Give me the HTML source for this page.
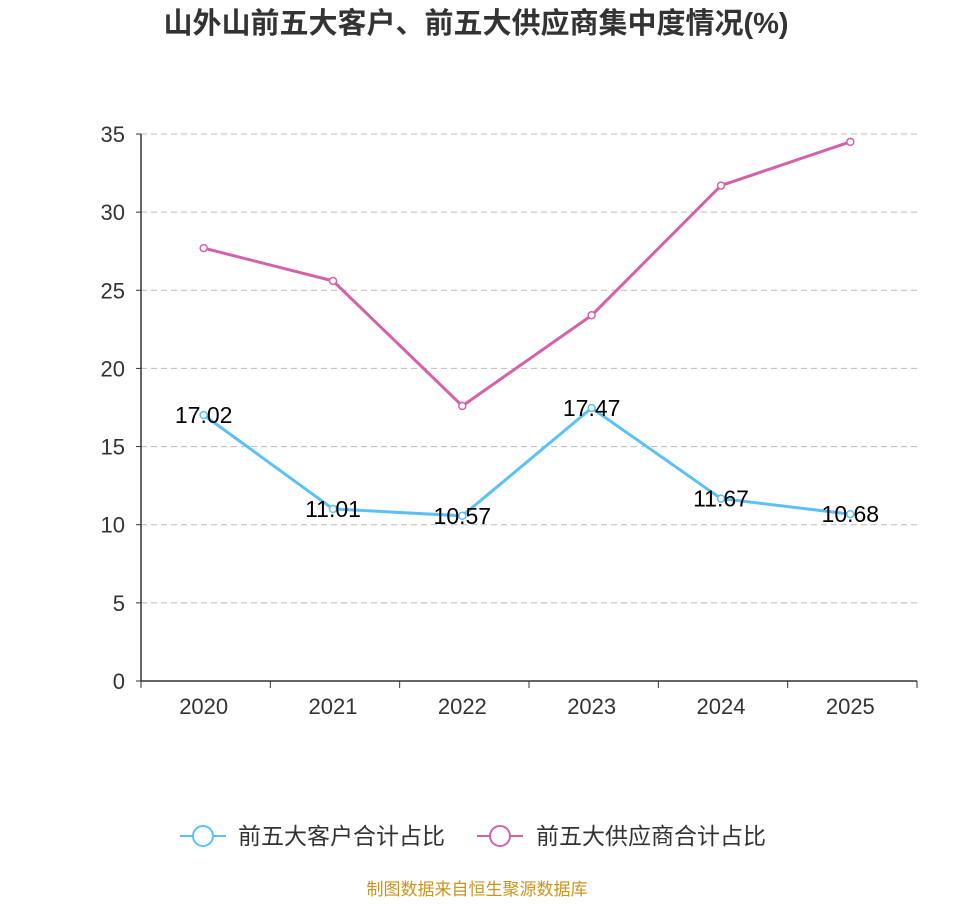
<!DOCTYPE html>
<html><head><meta charset="utf-8"><style>
body{margin:0;background:#fff;}
svg text{font-family:"Liberation Sans","Noto Sans CJK SC",sans-serif;}
</style></head><body>
<svg id="chart" width="954" height="900">
<text x="476" y="33" text-anchor="middle" font-size="29" font-weight="bold" fill="#333">山外山前五大客户、前五大供应商集中度情况(%)</text>
<g id="grid"></g><g id="axes"></g><g id="series"></g>
<g>
<g>
<line x1="180" y1="836" x2="226" y2="836" stroke="#5bc0f5" stroke-width="2"/>
<circle cx="203" cy="836" r="10" fill="#fff" stroke="#5bc0f5" stroke-width="2"/>
<text x="238" y="844" font-size="23" fill="#333">前五大客户合计占比</text></g>
<g>
<line x1="477" y1="836" x2="523" y2="836" stroke="#d462a8" stroke-width="2"/>
<circle cx="500" cy="836" r="10" fill="#fff" stroke="#d462a8" stroke-width="2"/>
<text x="536" y="844" font-size="23" fill="#333">前五大供应商合计占比</text></g>
</g>
<text x="477" y="895" text-anchor="middle" font-size="17" fill="#c8961e">制图数据来自恒生聚源数据库</text>
</svg>
<script>
const categories=["2020","2021","2022","2023","2024","2025"];
const customers=[17.02,11.01,10.57,17.47,11.67,10.68];
const suppliers=[27.7,25.6,17.6,23.4,31.7,34.5];
const yTicks=[0,5,10,15,20,25,30,35];
const NS="http://www.w3.org/2000/svg";
const L=141,R=917,T=134,B=681,maxY=35;
const y=v=>B-(v/maxY)*(B-T);
const bw=(R-L)/categories.length;
const x=i=>L+bw*(i+0.5)-2;
function mk(tag,attrs,parent,txt){const e=document.createElementNS(NS,tag);for(const k in attrs)e.setAttribute(k,attrs[k]);if(txt!==undefined)e.textContent=txt;parent.appendChild(e);return e;}
const grid=document.getElementById('grid'),axes=document.getElementById('axes'),ser=document.getElementById('series');
yTicks.forEach(t=>{
 if(t>0){const g=mk('line',{x1:L,x2:R,y1:y(t),y2:y(t),stroke:'#bbb','stroke-dasharray':'6,4'},grid);
 
 }
 const tl=mk('text',{x:L-16,y:y(t)+8,'text-anchor':'end','font-size':'22',fill:'#333'},axes,t);
 
 
 mk('line',{x1:L-5,x2:L,y1:y(t),y2:y(t),stroke:'#333'},axes);
});
const ya=mk('line',{x1:L,x2:L,y1:T,y2:B,stroke:'#333','stroke-width':1.5},axes);


const xa=mk('line',{x1:L,x2:R,y1:B,y2:B,stroke:'#333','stroke-width':1.5},axes);


for(let i=0;i<=categories.length;i++)mk('line',{x1:L+bw*i,x2:L+bw*i,y1:B,y2:B+7,stroke:'#333'},axes);
categories.forEach((c,i)=>{const t=mk('text',{x:x(i),y:B+33,'text-anchor':'middle','font-size':'22',fill:'#333'},axes,c);
 
 });
function draw(vals,color,name,labels){
 const p=mk('polyline',{points:vals.map((v,i)=>x(i)+','+y(v)).join(' '),fill:'none',stroke:color,'stroke-width':3},ser);
 
 
 vals.forEach((v,i)=>{const c=mk('circle',{cx:x(i),cy:y(v),r:3.5,fill:'#fff',stroke:color,'stroke-width':1.5},ser);
  
  
  if(labels){const t=mk('text',{x:x(i),y:y(v)+8,'text-anchor':'middle','font-size':'23',fill:'#000'},ser,v.toFixed(2));
   
   }});
}
draw(suppliers,'#d462a8','suppliers',false);
draw(customers,'#5bc0f5','customers',true);
</script>
</body></html>
